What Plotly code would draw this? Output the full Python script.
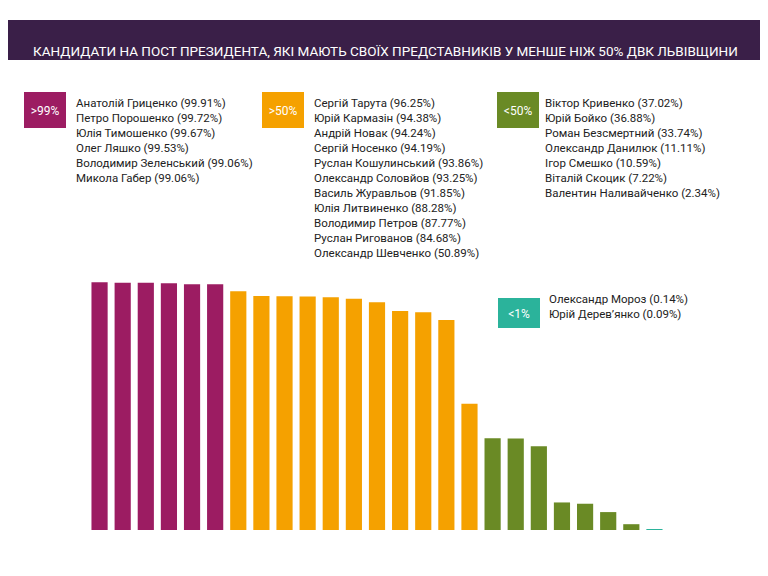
import plotly.graph_objects as go

# the page is shown with an 8px body margin, so the figure is drawn 8px smaller
OFF = 8
W, H = 768 - OFF, 576 - OFF

names_99 = ["Анатолій Гриценко", "Петро Порошенко", "Юлія Тимошенко", "Олег Ляшко",
            "Володимир Зеленський", "Микола Габер"]
vals_99 = [99.91, 99.72, 99.67, 99.53, 99.06, 99.06]
names_50 = ["Сергій Тарута", "Юрій Кармазін", "Андрій Новак", "Сергій Носенко",
            "Руслан Кошулинський", "Олександр Соловйов", "Василь Журавльов",
            "Юлія Литвиненко", "Володимир Петров", "Руслан Риговaнов".replace("a", "а"),
            "Олександр Шевченко"]
vals_50 = [96.25, 94.38, 94.24, 94.19, 93.86, 93.25, 91.85, 88.28, 87.77, 84.68, 50.89]
names_lt50 = ["Віктор Кривенко", "Юрій Бойко", "Роман Безсмертний", "Олександр Данилюк",
              "Ігор Смешко", "Віталій Скоцик", "Валентин Наливайченко"]
vals_lt50 = [37.02, 36.88, 33.74, 11.11, 10.59, 7.22, 2.34]
names_lt1 = ["Олександр Мороз", "Юрій Дерев’янко"]
vals_lt1 = [0.14, 0.09]

groups = [
    (">99%", names_99, vals_99, "#9c1c62", (24, 92), (74, 94)),
    (">50%", names_50, vals_50, "#f5a100", (262, 92), (312, 94)),
    ("<50%", names_lt50, vals_lt50, "#6a8a25", (497, 92), (543, 94)),
    ("<1%", names_lt1, vals_lt1, "#2bb39b", (498, 298), (547, 290)),
]

def px(x):
    return (x - OFF) / W

def py(y):
    return 1 - (y - OFF) / H

all_names, all_vals, all_cols = [], [], []
for _, n, v, c, _, _ in groups:
    all_names += n
    all_vals += v
    all_cols += [c] * len(n)

fig = go.Figure(go.Bar(x=list(range(len(all_vals))), y=all_vals, marker_color=all_cols,
                       marker_line_width=0, width=0.7, hovertext=all_names))

shapes = [dict(type="rect", xref="paper", yref="paper", x0=-0.05, x1=1.05, y0=py(60), y1=py(20),
               fillcolor="#3a1f48", line_width=0, layer="below")]
annotations = [dict(text="КАНДИДАТИ НА ПОСТ ПРЕЗИДЕНТА, ЯКІ МАЮТЬ СВОЇХ ПРЕДСТАВНИКІВ У МЕНШЕ НІЖ 50% ДВК ЛЬВІВЩИНИ",
                    xref="paper", yref="paper", x=px(385), y=py(41), showarrow=False,
                    font=dict(family="Roboto", size=13.5, color="white"))]
for label, n, v, c, (bx, by), (tx, ty) in groups:
    bh = 36 if label != "<1%" else 30
    shapes.append(dict(type="rect", xref="paper", yref="paper", x0=px(bx), x1=px(bx + 42),
                       y0=py(by + bh), y1=py(by), fillcolor=c, line_width=0,
                       label=dict(text=label, font=dict(family="Roboto", size=12, color="white"))))
    txt = "<br>".join(f"{a} ({b:.2f}%)" for a, b in zip(n, v))
    annotations.append(dict(text=txt, xref="paper", yref="paper", x=px(tx), y=py(ty),
                            xanchor="left", yanchor="top", align="left", showarrow=False,
                            font=dict(family="Roboto", size=11.5, color="#222")))

fig.update_layout(
    width=W, height=H, margin=dict(l=0, r=0, t=0, b=0),
    paper_bgcolor="white", plot_bgcolor="rgba(0,0,0,0)", showlegend=False,
    xaxis=dict(domain=[px(88), px(666)], range=[-0.5, 24.5], visible=False),
    yaxis=dict(domain=[py(530), py(282)], range=[0, 100], visible=False),
    shapes=shapes, annotations=annotations, bargap=0.3,
)
fig.write_html("out.html")
